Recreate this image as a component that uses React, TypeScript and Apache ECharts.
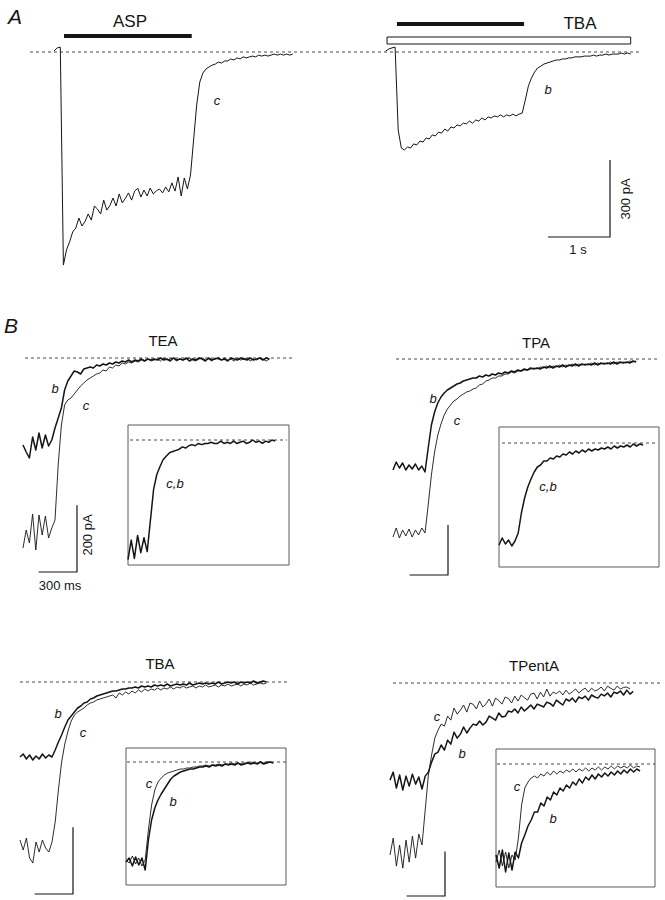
import { useEffect, useRef } from "react";
import * as echarts from "echarts";

const FONT = '"Liberation Sans", Arial, Helvetica, sans-serif';
const INK = "#151515";

// ---------------- Panel A: whole-cell currents (pA), sampled every 50 ms ----------------
const A_DT_S = 0.05;
const aspStartS = 0.55;
const aspCurrent = [4, 16, 19, -830, -771, -740, -701, -686, -647, -678, -660, -631, -655, -600, -612, -631, -577, -616, -598, -569, -600, -553, -588, -570, -549, -577, -542, -531, -565, -538, -561, -530, -553, -541, -534, -549, -526, -545, -510, -542, -487, -561, -491, -534, -479, -343, -206, -117, -82, -66, -58, -51, -47, -39, -43, -35, -35, -27, -31, -23, -27, -19, -23, -19, -16, -19, -12, -16, -12, -16, -12, -8, -12, -8, -12, -8, -12, -8];
const tbaStartS = 5.9;
const tbaCurrent = [4, 12, 16, 19, -304, -374, -382, -370, -374, -358, -362, -347, -351, -335, -339, -323, -327, -312, -316, -300, -308, -292, -296, -284, -288, -277, -280, -269, -277, -265, -269, -257, -265, -253, -257, -249, -253, -245, -253, -245, -249, -242, -249, -242, -238, -187, -132, -101, -78, -62, -55, -47, -43, -39, -35, -31, -31, -27, -27, -23, -23, -19, -19, -19, -16, -16, -16, -12, -16, -12, -12, -8, -12, -8, -8, -8, -4, -8, -4, -8];
// drug application periods (s)
const aspBarS = [0.71, 2.77];
const tbaBarS = [6.08, 8.13];
const tbaWashS = [5.92, 9.85];
const aScaleBar = { seconds: 1, pA: 300 };

// ---------------- Panel B: tail currents (pA), sampled every 25 ms ----------------
const B_DT_MS = 25;
const bScaleBar = { ms: 300, pA: 200 };

const teaB = [-261, -282, -300, -237, -276, -225, -270, -231, -264, -246, -210, -180, -150, -96, -69, -54, -39, -42, -48, -33, -30, -27, -30, -21, -24, -18, -21, -15, -18, -12, -15, -9, -12, -6, -12, -6, -9, -3, -9, -3, -6,
  -3, -6, 0, -6, -3, -9, 0, -6, -3, -6, 0, -9, -3, -6, 0, -3, -9, 0, -6, -3, 0, -6, -3, -9, 0, -3, -6, 0, -3, -6, 0, -6, -3, 0, -6, 0, -3];
const teaC = [-570, -516, -555, -468, -576, -471, -531, -474, -540, -510, -486, -321, -201, -141, -126, -120, -108, -96, -84, -75, -66, -60, -54, -48, -45, -36, -39, -27, -30, -21, -24, -15, -18, -12, -15, -9, -12, -6, -9, -3, -9,
  -6, -3, -9, 0, -6, -3, 0, -9, -3, -6, -3, 0, -6, -9, -3, 0, -6, -3, -9, 0, -3, -6, 0, -6, -3, -9, 0, -6, -3, 0, -9, -3, -6, 0, -3, -9, -3];
// normalised (% of amplitude), c and b superimposed
const teaInsetCB = [-104, -87, -103, -83, -98, -85, -97, -70, -43, -30, -23, -17, -14, -11, -10, -9, -8, -6, -7, -5, -4, -5, -3, -4, -3, -3, -2, -3, -3, -1, -3, -2, -3, -1, -3, -2, -1, -3, -2, 0, -2, -1, -3, -1, -2, 0, -1];

const tpaB = [-444, -412, -436, -416, -444, -424, -440, -420, -444, -428, -452, -356, -264, -212, -176, -152, -136, -124, -116, -108, -100, -96, -88, -84, -80, -76, -76, -68, -72, -64, -68, -60, -64, -56, -60, -52, -56, -48, -52, -44, -48, -40, -44, -36, -40, -36, -40, -32, -36, -28, -36, -28, -32, -24, -32, -24, -28, -20, -28, -20, -24, -20, -24, -16, -24, -16, -20, -16, -20, -12, -20, -12, -16, -12, -16, -8, -12];
const tpaC = [-712, -676, -716, -684, -708, -680, -712, -684, -704, -676, -696, -584, -464, -372, -304, -260, -224, -200, -184, -168, -160, -148, -140, -132, -128, -120, -116, -104, -100, -88, -84, -76, -76, -68, -68, -60, -60, -52, -56, -48, -48, -44, -44, -40, -36, -40, -32, -36, -28, -36, -28, -32, -24, -32, -24, -28, -20, -28, -20, -24, -20, -24, -16, -24, -16, -20, -16, -20, -12, -20, -12, -16, -12, -16, -8, -12, -8];
const tpaInsetCB = [-102, -95, -101, -97, -103, -98, -90, -70, -55, -44, -36, -29, -24, -22, -18, -18, -15, -16, -13, -14, -11, -12, -9, -11, -8, -10, -7, -9, -6, -8, -6, -7, -5, -6, -4, -6, -3, -5, -3, -4, -2, -4, -1, -3, -1, -2];

const tbaB = [-225, -216, -231, -219, -234, -222, -231, -216, -228, -219, -225, -204, -180, -159, -135, -114, -102, -90, -78, -72, -63, -60, -51, -48, -42, -39, -36, -33, -30, -27, -27, -24, -21, -21, -18, -18, -15, -18, -12, -15, -12,
  -15, -9, -12, -9, -12, -6, -12, -9, -6, -9, -6, -9, -3, -9, -6, -3, -6, -3, -6, -3, -6, 0, -6, -3, 0, -3, 0, -6, 0, -3, 0, -3, 3, -3, 0, 3, 0];
const tbaC = [-474, -504, -468, -528, -543, -480, -510, -474, -498, -510, -480, -420, -324, -240, -186, -147, -117, -99, -90, -84, -78, -69, -63, -60, -54, -51, -48, -45, -42, -39, -48, -33, -39, -30, -36, -27, -33, -24, -30, -21, -27,
  -21, -24, -18, -24, -18, -21, -15, -21, -15, -18, -12, -18, -15, -12, -18, -12, -15, -9, -15, -12, -9, -15, -9, -12, -6, -12, -9, -6, -12, -6, -9, -3, -9, -6, -3, -6, -3];
const tbaInsetB = [-100, -96, -104, -95, -103, -96, -108, -78, -58, -46, -38, -32, -27, -22, -17, -14, -12, -10, -9, -8, -7, -7, -6, -5, -5, -4, -5, -3, -4, -3, -4, -2, -3, -2, -3, -1, -3, -2, -1, -2, -1, -2, 0, -2, -1, 0, -1];
const tbaInsetC = [-98, -101, -94, -102, -96, -104, -98, -68, -43, -28, -20, -16, -13, -11, -10, -9, -8, -7, -7, -6, -6, -5, -5, -4, -4, -3, -4, -3, -3, -2, -3, -2, -2, -1, -2, -1, -2, -1, -1, 0, -1, -1, 0, -1, 0, 0, -1];

const tpentB = [-437, -401, -473, -414, -482, -419, -464, -410, -455, -423, -477, -419, -401, -356, -320, -311, -279, -302, -257, -275,
  -221, -248, -230, -198, -225, -203, -185, -190, -171, -189, -176, -149, -158, -167, -135, -153, -150, -126, -131, -117, -135, -108, -126, -113, -99, -117, -95, -101, -108, -86, -92, -104, -77, -88, -99, -72, -81, -68, -86, -63, -70, -59, -77, -54, -63, -68, -50, -58, -45, -63, -41, -47, -36, -54, -32, -50, -38];
const tpentC = [-774, -698, -824, -729, -833, -707, -806, -689, -788, -680, -729, -572, -414, -324, -248, -212, -185, -194, -149, -167,
  -113, -140, -122, -99, -131, -90, -96, -117, -81, -108, -94, -72, -104, -68, -79, -95, -63, -70, -90, -59, -81, -54, -66, -77, -50, -45, -72, -41, -63, -27, -59, -41, -48, -36, -54, -32, -50, -39, -27, -45, -32, -23, -41, -23, -36, -30, -18, -36, -14, -24, -32, -14, -27, -20, -18, -27];
const tpentInsetB = [-91, -104, -86, -108, -89, -106, -88, -94, -79, -71, -62, -56, -48, -48, -39, -42, -33, -36, -28, -31, -24, -27, -21, -24, -18, -21, -15, -19, -13, -16, -11, -15, -10, -13, -9, -12, -8, -11, -7, -10, -6, -9, -5, -8, -5, -7];
const tpentInsetC = [-98, -86, -102, -88, -104, -91, -96, -74, -41, -24, -18, -14, -12, -14, -10, -12, -8, -11, -7, -10, -7, -9, -6, -8, -5, -8, -5, -7, -4, -7, -4, -6, -3, -6, -3, -5, -2, -5, -2, -4, -2, -4, -1, -4, -2, -3];

// ---------------- layout (pixels) ----------------
type Box = { left: number; top: number; width: number; height: number; x0: number; y0: number; pxX: number; pxY: number };

const aBox: Box = { left: 20, top: 8, width: 632, height: 280, x0: 20, y0: 52, pxX: 62, pxY: 77 / 300 };

type PanelLayout = {
  name: string; title: [number, number];
  main: Box; inset: Box;
  dash: [number, number]; insetDash: [number, number];
  corner: [number, number];
  labels: { t: string; x: number; y: number }[];
};

const panelLayouts: PanelLayout[] = [
  {
    name: "TEA", title: [163, 340],
    main: { left: 12, top: 345, width: 290, height: 245, x0: 23, y0: 358, pxX: 0.128, pxY: 1 / 3 },
    inset: { left: 128, top: 425, width: 161, height: 140, x0: 128, y0: 440, pxX: 0.128, pxY: 1.15 },
    dash: [25, 293], insetDash: [130, 287], corner: [77, 572],
    labels: [{ t: "b", x: 55, y: 388 }, { t: "c", x: 86, y: 405 }, { t: "c,b", x: 175, y: 483 }],
  },
  {
    name: "TPA", title: [536, 342],
    main: { left: 382, top: 345, width: 283, height: 245, x0: 393, y0: 359, pxX: 0.128, pxY: 1 / 4 },
    inset: { left: 499, top: 427, width: 160, height: 140, x0: 499, y0: 443, pxX: 0.128, pxY: 1 },
    dash: [396, 660], insetDash: [502, 658], corner: [448, 575],
    labels: [{ t: "b", x: 433, y: 398 }, { t: "c", x: 457, y: 420 }, { t: "c,b", x: 548, y: 486 }],
  },
  {
    name: "TBA", title: [160, 663],
    main: { left: 12, top: 672, width: 290, height: 228, x0: 20, y0: 682, pxX: 0.128, pxY: 1 / 3 },
    inset: { left: 126, top: 748, width: 160, height: 137, x0: 126, y0: 762, pxX: 0.128, pxY: 1 },
    dash: [20, 287], insetDash: [127, 287], corner: [73, 894],
    labels: [{ t: "b", x: 58, y: 713 }, { t: "c", x: 83, y: 732 }, { t: "c", x: 149, y: 783 }, { t: "b", x: 173, y: 801 }],
  },
  {
    name: "TPentA", title: [534, 665],
    main: { left: 382, top: 672, width: 283, height: 228, x0: 390, y0: 683, pxX: 0.128, pxY: 1 / 4.5 },
    inset: { left: 496, top: 749, width: 159, height: 138, x0: 496, y0: 764, pxX: 0.128, pxY: 1 },
    dash: [393, 660], insetDash: [497, 655], corner: [445, 896],
    labels: [{ t: "c", x: 437, y: 716 }, { t: "b", x: 462, y: 753 }, { t: "c", x: 517, y: 786 }, { t: "b", x: 553, y: 818 }],
  },
];

const panelData = [
  { b: teaB, c: teaC, insetB: teaInsetCB, insetC: null as number[] | null },
  { b: tpaB, c: tpaC, insetB: tpaInsetCB, insetC: null as number[] | null },
  { b: tbaB, c: tbaC, insetB: tbaInsetB, insetC: tbaInsetC },
  { b: tpentB, c: tpentC, insetB: tpentInsetB, insetC: tpentInsetC },
];

function buildOption() {
  const grids: any[] = [];
  const xAxes: any[] = [];
  const yAxes: any[] = [];
  const series: any[] = [];
  const graphic: any[] = [];

  const addGrid = (b: Box, border: boolean) => {
    const idx = grids.length;
    grids.push({
      left: b.left, top: b.top, width: b.width, height: b.height,
      show: border, borderColor: "#5a5a5a", borderWidth: 1, backgroundColor: "transparent",
    });
    xAxes.push({ type: "value", gridIndex: idx, show: false, min: (b.left - b.x0) / b.pxX, max: (b.left + b.width - b.x0) / b.pxX });
    yAxes.push({ type: "value", gridIndex: idx, show: false, min: -(b.top + b.height - b.y0) / b.pxY, max: (b.y0 - b.top) / b.pxY });
    return idx;
  };
  const addLine = (idx: number, data: number[][], width: number, extra: any = {}) => {
    series.push({
      type: "line", xAxisIndex: idx, yAxisIndex: idx, data, symbol: "none", showSymbol: false,
      silent: true, animation: false, emphasis: { disabled: true },
      lineStyle: { color: INK, width, join: "round", ...extra },
    });
  };
  const sampled = (vals: number[], t0: number, dt: number) => vals.map((v, i) => [t0 + i * dt, v]);
  const toX = (b: Box, px: number) => (px - b.x0) / b.pxX;
  const toY = (b: Box, py: number) => -(py - b.y0) / b.pxY;
  const dashed = (idx: number, b: Box, span: [number, number]) =>
    addLine(idx, [[toX(b, span[0]), 0], [toX(b, span[1]), 0]], 0.9, { type: [3, 3], color: "#333" });
  const text = (t: string, x: number, y: number, size: number, opts: any = {}) => {
    graphic.push({
      type: "text", x, y, rotation: opts.rotation || 0, z: 10, silent: true,
      style: {
        text: t, fill: INK, fontSize: size, fontFamily: FONT, fontStyle: opts.italic ? "italic" : "normal",
        fontWeight: "normal",
        textAlign: opts.align || "center", align: opts.align || "center",
        textVerticalAlign: "middle", verticalAlign: "middle",
      },
    });
  };

  // ----- Panel A -----
  const ga = addGrid(aBox, false);
  dashed(ga, aBox, [30, 640]);
  addLine(ga, sampled(aspCurrent, aspStartS, A_DT_S), 1);
  addLine(ga, sampled(tbaCurrent, tbaStartS, A_DT_S), 1);
  const aspLevel = toY(aBox, 36);
  addLine(ga, [[aspBarS[0], aspLevel], [aspBarS[1], aspLevel]], 4, { cap: "butt" });
  const tbaLevel = toY(aBox, 24);
  addLine(ga, [[tbaBarS[0], tbaLevel], [tbaBarS[1], tbaLevel]], 4, { cap: "butt" });
  const wTop = toY(aBox, 37), wBot = toY(aBox, 44);
  addLine(ga, [[tbaWashS[0], wBot], [tbaWashS[1], wBot], [tbaWashS[1], wTop], [tbaWashS[0], wTop], [tbaWashS[0], wBot]], 1);
  const ac = [toX(aBox, 610), toY(aBox, 237)];
  addLine(ga, [[ac[0] - aScaleBar.seconds, ac[1]], [ac[0], ac[1]], [ac[0], ac[1] + aScaleBar.pA]], 1.2);

  text("A", 8, 16, 21, { italic: true, align: "left" });
  text("ASP", 130, 21, 17);
  text("TBA", 580, 23, 17);
  text("c", 217, 100, 13, { italic: true });
  text("b", 548, 89, 13, { italic: true });
  text(`${aScaleBar.pA} pA`, 625, 199, 13, { rotation: Math.PI / 2 });
  text(`${aScaleBar.seconds} s`, 578, 249, 13);

  // ----- Panel B -----
  text("B", 4, 325, 21, { italic: true, align: "left" });
  panelLayouts.forEach((L, k) => {
    const D = panelData[k];
    const gm = addGrid(L.main, false);
    dashed(gm, L.main, L.dash);
    addLine(gm, sampled(D.c, 0, B_DT_MS), 0.9);
    addLine(gm, sampled(D.b, 0, B_DT_MS), 1.5);
    const c = [toX(L.main, L.corner[0]), toY(L.main, L.corner[1])];
    addLine(gm, [[c[0] - bScaleBar.ms, c[1]], [c[0], c[1]], [c[0], c[1] + bScaleBar.pA]], 1.2);

    const gi = addGrid(L.inset, true);
    dashed(gi, L.inset, L.insetDash);
    if (D.insetC) addLine(gi, sampled(D.insetC, 0, B_DT_MS), 0.9);
    addLine(gi, sampled(D.insetB, 0, B_DT_MS), 1.5);

    text(L.name, L.title[0], L.title[1], 15);
    L.labels.forEach((lb) => text(lb.t, lb.x, lb.y, 13, { italic: true }));
  });
  text(`${bScaleBar.pA} pA`, 87, 535, 13, { rotation: Math.PI / 2 });
  text(`${bScaleBar.ms} ms`, 60, 585, 13);

  return {
    animation: false,
    backgroundColor: "#ffffff",
    grid: grids,
    xAxis: xAxes,
    yAxis: yAxes,
    series,
    graphic: { elements: graphic },
  };
}

export default function App() {
  const ref = useRef<HTMLDivElement>(null);
  useEffect(() => {
    if (!ref.current) return;
    const chart = echarts.init(ref.current, undefined, { renderer: "svg" });
    chart.setOption(buildOption() as any);
    return () => chart.dispose();
  }, []);
  return (
    <div
      ref={ref}
      style={{ position: "fixed", left: 0, top: 0, width: 665, height: 900, background: "#fff" }}
    />
  );
}
